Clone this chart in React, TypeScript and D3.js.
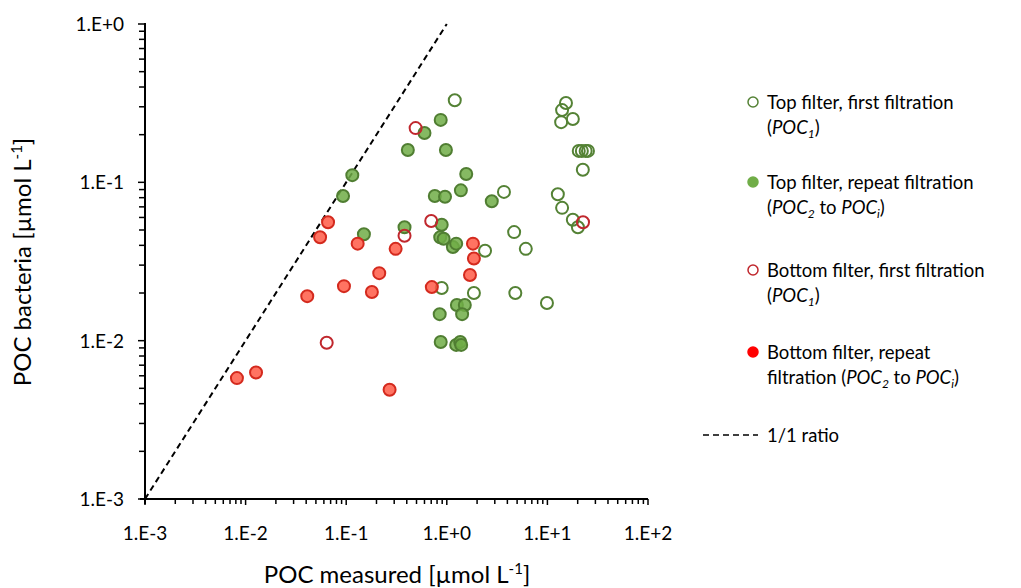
import React, { useEffect, useRef } from 'react';
import * as d3 from 'd3';

// [POC measured, POC bacteria] in µmol/L
const topFirst: [number, number][] = [
  [1.2, 0.33], [15.3, 0.317], [14.0, 0.286], [13.7, 0.24], [17.9, 0.251],
  [20.5, 0.158], [22, 0.158], [24, 0.158], [25.3, 0.158], [22.5, 0.12],
  [3.7, 0.087], [12.7, 0.084], [14.0, 0.069], [17.9, 0.058], [20.1, 0.052],
  [4.67, 0.0485], [2.4, 0.037], [6.1, 0.038], [0.89, 0.0215], [1.86, 0.02],
  [4.8, 0.02], [9.9, 0.0173],
];
const topRepeat: [number, number][] = [
  [0.87, 0.248], [0.6, 0.205], [0.41, 0.16], [0.98, 0.16], [0.115, 0.111],
  [0.093, 0.082], [0.76, 0.082], [0.96, 0.081], [1.56, 0.113], [1.38, 0.089],
  [2.8, 0.076], [0.38, 0.052], [0.15, 0.047], [0.89, 0.054], [0.86, 0.045],
  [0.93, 0.044], [1.15, 0.039], [1.24, 0.041], [0.85, 0.0147], [0.87, 0.0098],
  [1.26, 0.0168], [1.51, 0.0168], [1.42, 0.0147], [1.24, 0.0094], [1.36, 0.0098],
  [1.39, 0.0094],
];
const bottomFirst: [number, number][] = [
  [0.49, 0.22], [0.7, 0.057], [0.38, 0.046], [22.6, 0.056], [0.064, 0.0097],
];
const bottomRepeat: [number, number][] = [
  [0.066, 0.056], [0.055, 0.045], [0.13, 0.041], [0.31, 0.038], [1.82, 0.041],
  [1.86, 0.033], [1.7, 0.026], [0.213, 0.0267], [0.095, 0.0221], [0.18, 0.0203],
  [0.041, 0.0191], [0.71, 0.0218], [0.0127, 0.0063], [0.0082, 0.0058], [0.27, 0.0049],
];

const xTickLabels = ['1.E-3', '1.E-2', '1.E-1', '1.E+0', '1.E+1', '1.E+2'];
const yTickLabels = ['1.E-3', '1.E-2', '1.E-1', '1.E+0'];

const FONT = 'Lato, "Open Sans", sans-serif';

const App = () => {
  const svgRef = useRef<SVGSVGElement>(null);

  useEffect(() => {
    const svg = d3.select(svgRef.current);
    svg.selectAll('*').remove();

    const x = d3.scaleLog().domain([1e-3, 1e2]).range([145, 648]);
    const y = d3.scaleLog().domain([1e-3, 1e0]).range([499, 24]);

    const xMajor = xTickLabels.map((_, i) => Math.pow(10, i - 3));
    const yMajor = yTickLabels.map((_, i) => Math.pow(10, i - 3));
    const minors = (majors: number[]) =>
      majors.slice(0, -1).flatMap((m) => d3.range(2, 10).map((k) => m * k));

    // axes
    const axis = svg.append('g').attr('stroke', '#000');
    axis.append('line').attr('x1', 140).attr('x2', 648).attr('y1', y(1e-3)).attr('y2', y(1e-3)).attr('stroke-width', 2);
    axis.append('line').attr('x1', 145).attr('x2', 145).attr('y1', 23).attr('y2', 504).attr('stroke-width', 2);

    axis.selectAll('.xt').data([...xMajor, ...minors(xMajor)]).enter().append('line')
      .attr('x1', (d) => x(d)).attr('x2', (d) => x(d))
      .attr('y1', y(1e-3)).attr('y2', (d) => y(1e-3) + (xMajor.includes(d) ? 6 : 5))
      .attr('stroke-width', 1.5);
    axis.selectAll('.yt').data([...yMajor, ...minors(yMajor)]).enter().append('line')
      .attr('y1', (d) => y(d)).attr('y2', (d) => y(d))
      .attr('x1', 145).attr('x2', (d) => (yMajor.includes(d) ? 138 : 139))
      .attr('stroke-width', 1.5);

    svg.selectAll('.xl').data(xMajor).enter().append('text')
      .attr('x', (d) => x(d)).attr('y', y(1e-3) + 41)
      .attr('text-anchor', 'middle').attr('font-family', FONT).attr('font-size', 19)
      .text((_, i) => xTickLabels[i]);
    svg.selectAll('.yl').data(yMajor).enter().append('text')
      .attr('x', 124).attr('y', (d) => y(d) + 7)
      .attr('text-anchor', 'end').attr('font-family', FONT).attr('font-size', 19)
      .text((_, i) => yTickLabels[i]);

    // axis titles
    const xt = svg.append('text').attr('x', 397).attr('y', 583).attr('text-anchor', 'middle')
      .attr('font-family', FONT).attr('font-size', 24);
    xt.append('tspan').text('POC measured [µmol L');
    xt.append('tspan').attr('dy', -9).attr('font-size', 15).text('-1');
    xt.append('tspan').attr('dy', 9).text(']');

    const yt = svg.append('text').attr('transform', 'translate(31,262) rotate(-90)').attr('text-anchor', 'middle')
      .attr('font-family', FONT).attr('font-size', 24);
    yt.append('tspan').text('POC bacteria [µmol L');
    yt.append('tspan').attr('dy', -9).attr('font-size', 15).text('-1');
    yt.append('tspan').attr('dy', 9).text(']');

    // 1:1 line
    svg.append('line')
      .attr('x1', x(1e-3)).attr('y1', y(1e-3)).attr('x2', x(1)).attr('y2', y(1))
      .attr('stroke', '#000').attr('stroke-width', 2).attr('stroke-dasharray', '6,4');

    const styles = [
      { data: topFirst, fill: '#fff', stroke: '#548235' },
      { data: topRepeat, fill: '#70ad47', stroke: '#507e32' },
      { data: bottomFirst, fill: '#fff', stroke: '#c0272d' },
      { data: bottomRepeat, fill: '#ff5a47', stroke: '#d42a1e' },
    ];
    styles.forEach((s) => {
      svg.append('g').selectAll('circle').data(s.data).enter().append('circle')
        .attr('cx', (d) => x(d[0])).attr('cy', (d) => y(d[1])).attr('r', 6)
        .attr('fill', s.fill).attr('fill-opacity', s.fill === '#fff' ? 0 : 0.85)
        .attr('stroke', s.stroke).attr('stroke-width', 2);
    });

    // legend
    const leg = svg.append('g').attr('font-family', FONT).attr('font-size', 18.5);
    const items = [
      { cy: 102, fill: 'none', stroke: '#548235', l1: 'Top filter, first filtration', l2: [['(', ''], ['POC', 'i'], ['1', 's'], [')', '']] },
      { cy: 182, fill: '#70ad47', stroke: '#70ad47', l1: 'Top filter, repeat filtration', l2: [['(', ''], ['POC', 'i'], ['2', 's'], [' to ', ''], ['POC', 'i'], ['i', 's'], [')', '']] },
      { cy: 270, fill: 'none', stroke: '#c0272d', l1: 'Bottom filter, first filtration', l2: [['(', ''], ['POC', 'i'], ['1', 's'], [')', '']] },
      { cy: 352, fill: '#ff0000', stroke: '#ff0000', l1: 'Bottom filter, repeat', l2: [['filtration (', ''], ['POC', 'i'], ['2', 's'], [' to ', ''], ['POC', 'i'], ['i', 's'], [')', '']] },
    ];
    items.forEach((it) => {
      leg.append('circle').attr('cx', 753).attr('cy', it.cy).attr('r', 5)
        .attr('fill', it.fill).attr('stroke', it.stroke).attr('stroke-width', 1.5);
      leg.append('text').attr('x', 767).attr('y', it.cy + 7).text(it.l1);
      const t = leg.append('text').attr('x', 767).attr('y', it.cy + 32);
      let shifted = false;
      it.l2.forEach(([s, k]) => {
        const sp = t.append('tspan').text(s);
        if (k === 'i') sp.attr('font-style', 'italic');
        if (k === 's') {
          sp.attr('font-style', 'italic').attr('font-size', 12).attr('dy', 4);
          shifted = true;
        } else if (shifted) {
          sp.attr('dy', -4);
          shifted = false;
        }
      });
    });
    leg.append('line').attr('x1', 703).attr('x2', 758).attr('y1', 435).attr('y2', 435)
      .attr('stroke', '#000').attr('stroke-width', 1.5).attr('stroke-dasharray', '6,4');
    leg.append('text').attr('x', 767).attr('y', 442).text('1/1 ratio');
  }, []);

  return (
    <svg ref={svgRef} width={1021} height={588}
      style={{ position: 'absolute', left: 0, top: 0, background: '#fff' }} />
  );
};

export default App;
